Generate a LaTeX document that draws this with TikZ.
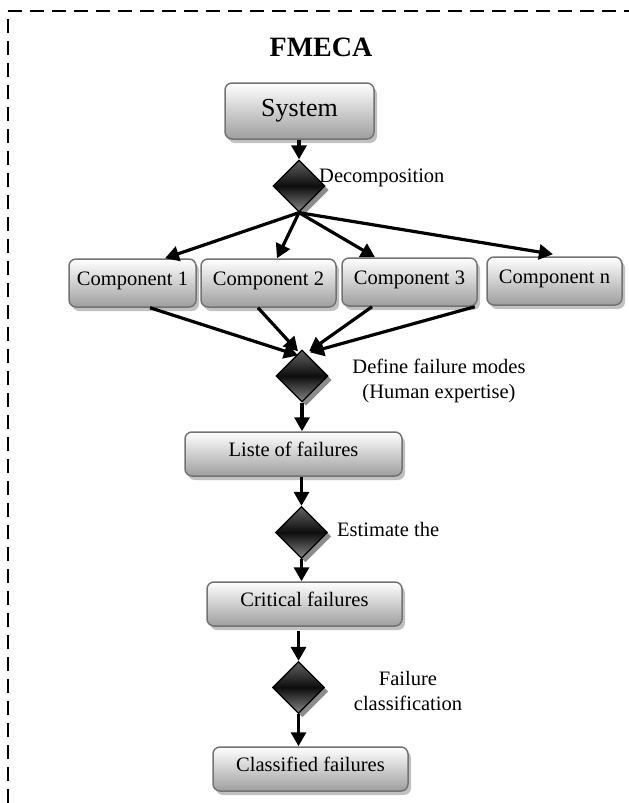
\documentclass[tikz,border=0pt]{standalone}
\usepackage{fontspec}
\setmainfont{Liberation Serif}
\usetikzlibrary{arrows.meta,shapes.geometric,shadows,calc}

\begin{document}
\begin{tikzpicture}[x=1pt,y=-1pt,
  box/.style={draw=black!55, line width=1.5pt, rounded corners=7pt,
    top color=white, bottom color=black!38, inner sep=0pt,
    minimum height=44pt, text height=16pt, text depth=12pt,
    font=\fontsize{20.5}{24}\selectfont,
    drop shadow={shadow xshift=3pt, shadow yshift=-4pt, fill=black!30, opacity=0.8}},
  dec/.style={diamond, draw=black, line width=1.3pt, inner sep=0pt,
    minimum width=52pt, minimum height=52pt,
    top color=black!62, bottom color=black!48, middle color=black!95,
    drop shadow={shadow xshift=4pt, shadow yshift=-4pt, fill=black!45, opacity=1}},
  flow/.style={line width=3.2pt, -{Triangle[length=14pt,width=15pt]}},
  lbl/.style={font=\fontsize{20.5}{25}\selectfont, inner sep=0pt, align=center},
  frame/.style={line width=1.5pt, dash pattern=on 14pt off 8pt}]

\useasboundingbox (0,0) rectangle (629,803);

% dashed outline (left and top sides)
\draw[frame] (8,803) -- (8,11);
\draw[frame] (8,11) -- (629,11);

% title
\node[font=\fontsize{28}{30}\selectfont\bfseries, inner sep=0pt] (title) at (321,47) {FMECA};

% boxes
\node[box, minimum width=149pt, minimum height=56pt, text height=, text depth=,
      font=\fontsize{26}{28}\selectfont] (sys) at (299.5,111) {System};
\node[box, minimum width=127pt, minimum height=48pt] (c1) at (132.5,283) {Component 1};
\node[box, minimum width=135pt, minimum height=48pt] (c2) at (268.5,283) {Component 2};
\node[box, minimum width=135pt, minimum height=48pt] (c3) at (409.5,282) {Component 3};
\node[box, minimum width=135pt, minimum height=48pt] (cn) at (554.5,281) {Component n};
\node[box, minimum width=217pt] (liste) at (293.5,454) {Liste of failures};
\node[box, minimum width=195pt] (crit) at (304.5,604) {Critical failures};
\node[box, minimum width=195pt] (cls) at (310.5,769) {Classified failures};

% decision diamonds
\node[dec] (d1) at (299,186) {};
\node[dec] (d2) at (302,376) {};
\node[dec] (d3) at (301.5,532.5) {};
\node[dec] (d4) at (298.5,687.5) {};

% labels
\node[lbl, anchor=west] (l1) at (319,178) {Decomposition};
\node[lbl] (l2) at (439,380.5) {Define failure modes\\(Human expertise)};
\node[lbl, anchor=west] (l3) at (337,529) {Estimate the};
\node[lbl] (l4) at (408,690.5) {Failure\\classification};

% connectors
\draw[flow] (sys.south -| d1.north) -- (d1.north);
\draw[flow] (d1.south) -- ($(c1.north)+(32.5,0)$);
\draw[flow] (d1.south) -- ($(c2.north)+(8.5,0)$);
\draw[flow] (d1.south) -- ($(c3.north)+(-34.5,0)$);
\draw[flow] (d1.south) -- ($(cn.north)+(-1.5,-2)$);

\draw[flow] ($(c1.south)+(17.5,0)$) -- ($(d2.north)+(-4,6)$);
\draw[flow] ($(c2.south)+(-10.5,0)$) -- ($(d2.north)+(-4,2)$);
\draw[flow] ($(c3.south)+(-37.5,0)$) -- ($(d2.north)+(7,2)$);
\draw[flow] ($(c3.south east)+(-3,0)$) -- ($(d2.north)+(8,3)$);

\draw[flow] (d2.south) -- (d2.south |- liste.north);
\draw[flow] (liste.south -| d3.north) -- (d3.north);
\draw[flow] (d3.south) -- (d3.south |- crit.north);
\draw[flow] ($(crit.south -| d4.north)+(0,4)$) -- (d4.north);
\draw[flow] (d4.south) -- (d4.south |- cls.north);

\end{tikzpicture}
\end{document}
